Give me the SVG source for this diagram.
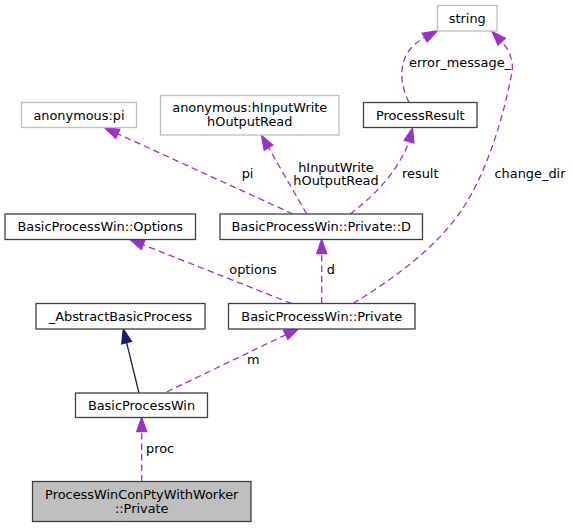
<svg xmlns="http://www.w3.org/2000/svg" width="573" height="528" viewBox="0 0 573 528">
<style>
text{font-family:"DejaVu Sans","Liberation Sans",sans-serif;font-size:12.9px;fill:#000}
.n rect{fill:#fff;stroke:#404040;stroke-width:1.3}
.g rect{fill:#fff;stroke:#bfbfbf;stroke-width:1.3}
.root rect{fill:#bfbfbf;stroke:#404040;stroke-width:1.3}
.c{text-anchor:middle}
.e{fill:none;stroke:#9a32cd;stroke-width:1.3;stroke-dasharray:6.5,4}
.ah{fill:#9a32cd;stroke:#9a32cd;stroke-width:1.3}
.inh{fill:none;stroke:#191970;stroke-width:1.3}
.ih{fill:#191970;stroke:#191970;stroke-width:1.3}
</style>
<rect width="573" height="528" fill="#fff"/>
<g id="connectors">
<path class="e" d="M141.7,481.5 L141.7,431.5"/>
<polygon class="ah" points="141.7,417.5 146.7,431.5 136.7,431.5"/>
<text x="146" y="453">proc</text>
<path class="inh" d="M139,393 L126.6,342.6"/>
<polygon class="ih" points="123.3,329 131.5,341.4 121.8,343.8"/>
<path class="e" d="M166.7,392 L285.7,334.8"/>
<polygon class="ah" points="298.3,328.7 287.9,339.3 283.5,330.2"/>
<text x="247" y="364">m</text>
<path class="e" d="M321.7,303.5 L321.7,253.5"/>
<polygon class="ah" points="321.7,239.5 326.7,253.5 316.7,253.5"/>
<text x="326.7" y="274">d</text>
<path class="e" d="M291.7,303.5 L143,244.7"/>
<polygon class="ah" points="130,239.5 144.9,240 141.2,249.3"/>
<text x="229.3" y="274">options</text>
<path class="e" d="M293,214 L117.7,133.8"/>
<polygon class="ah" points="105,128 119.8,129.3 115.7,138.4"/>
<text x="241.7" y="178">pi</text>
<path class="e" d="M306.7,214 L268.5,147.6"/>
<polygon class="ah" points="261.5,135.5 272.8,145.1 264.2,150.1"/>
<text class="c" x="336" y="171.5">hInputWrite</text>
<text class="c" x="336" y="185">hOutputRead</text>
<path class="e" d="M350,214 C372,198 398,172 409,141.6"/>
<polygon class="ah" points="412.5,128 413.9,142.9 404.2,140.3"/>
<text x="402" y="178">result</text>
<path class="e" d="M409,102.5 C398,80 397,52 424.7,37.6"/>
<polygon class="ah" points="437,31 427.1,42 422.3,33.2"/>
<text x="409" y="67">error_message_</text>
<path class="e" d="M353,303.5 C395,278 440,245 465,205 C490,165 505,110 512,72 C514,60 508,48 501.7,41.6"/>
<polygon class="ah" points="492,31.5 505.3,38.2 498.1,45.1"/>
<text x="494.5" y="178">change_dir</text>
</g>
<g id="node-string" class="g"><rect x="437.5" y="5.5" width="59.5" height="25.5"/><text class="c" x="467.25" y="22.5">string</text></g>
<g id="node-anon-pi" class="g"><rect x="21.5" y="102.5" width="115" height="25"/><text class="c" x="79" y="119.5">anonymous:pi</text></g>
<g id="node-anon-hinput" class="g"><rect x="160.5" y="95.5" width="178.5" height="39.5"/><text class="c" x="249.75" y="112">anonymous:hInputWrite</text><text class="c" x="249.75" y="125.5">hOutputRead</text></g>
<g id="node-processresult" class="n"><rect x="363.5" y="102.5" width="113.5" height="25"/><text class="c" x="420.25" y="119.5">ProcessResult</text></g>
<g id="node-options" class="n"><rect x="5" y="214" width="190.5" height="25.5"/><text class="c" x="100.25" y="231">BasicProcessWin::Options</text></g>
<g id="node-private-d" class="n"><rect x="220" y="214" width="202.5" height="25.5"/><text class="c" x="321.25" y="231">BasicProcessWin::Private::D</text></g>
<g id="node-abstract" class="n"><rect x="36" y="303.5" width="169" height="25.5"/><text class="c" x="120.5" y="320.5">_AbstractBasicProcess</text></g>
<g id="node-private" class="n"><rect x="228.5" y="303.5" width="186.5" height="25.5"/><text class="c" x="321.75" y="320.5">BasicProcessWin::Private</text></g>
<g id="node-basicprocesswin" class="n"><rect x="75.5" y="393" width="132" height="24.5"/><text class="c" x="141.5" y="410">BasicProcessWin</text></g>
<g id="node-root" class="root"><rect x="32.5" y="481.5" width="218.5" height="40"/><text class="c" x="141.75" y="498.6">ProcessWinConPtyWithWorker</text><text class="c" x="141.75" y="513.4">::Private</text></g>
</svg>
